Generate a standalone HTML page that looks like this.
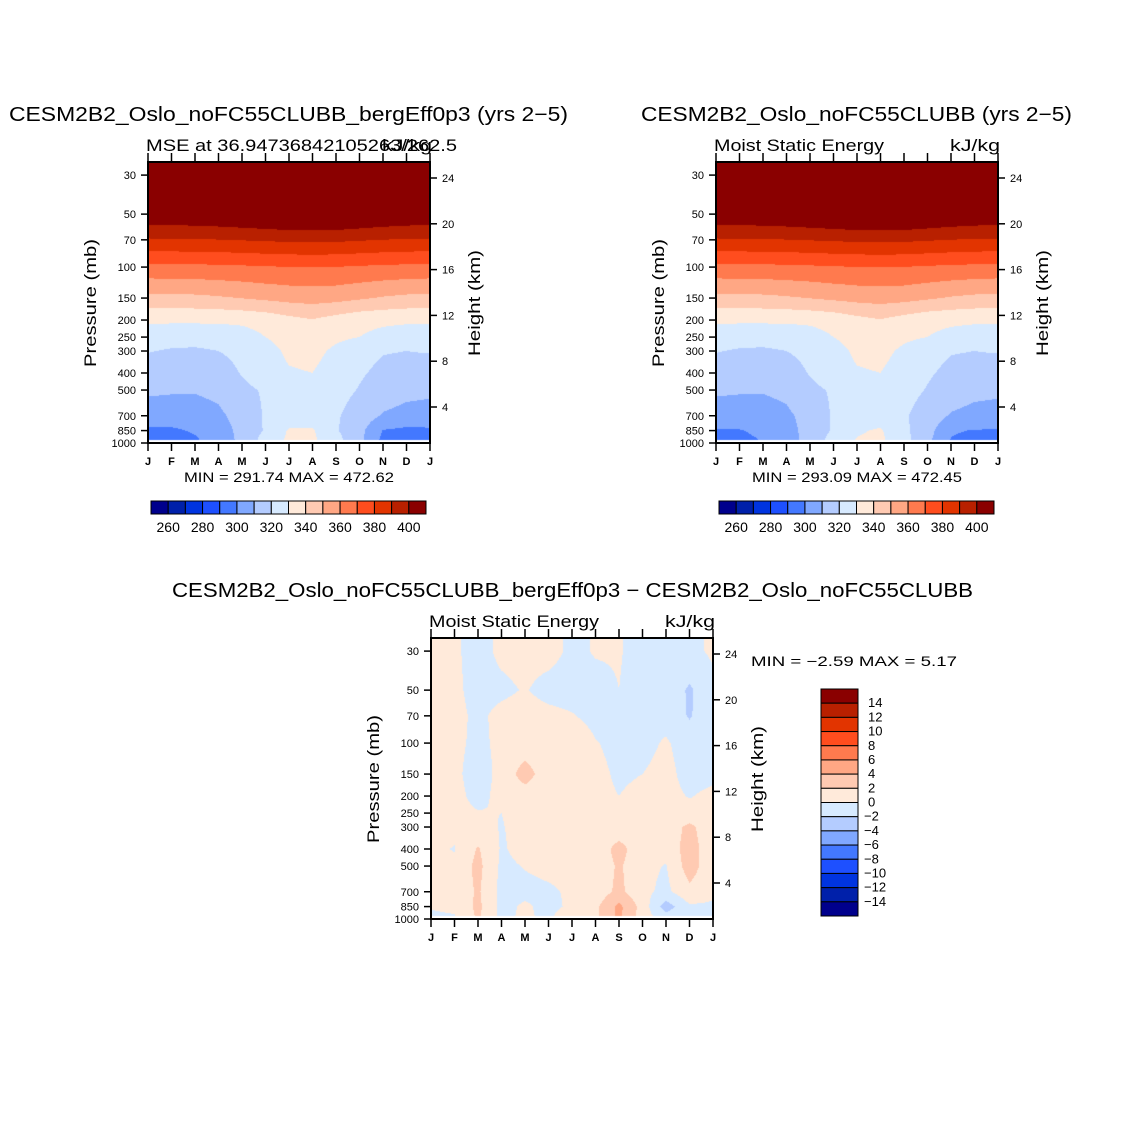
<!DOCTYPE html>
<html><head><meta charset="utf-8"><style>
html,body{margin:0;padding:0;background:#fff;width:1146px;height:1146px;overflow:hidden}
#cv{position:absolute;left:0;top:0}
#sv{position:absolute;left:0;top:0}
text{font-family:"Liberation Sans",sans-serif;fill:#000}
</style></head><body>
<canvas id="cv" width="1146" height="1146"></canvas>
<svg id="sv" width="1146" height="1146"></svg>
<script>
// ---- data ----
const months = ["J","F","M","A","M","J","J","A","S","O","N","D","J"];
const pLevels = [30,50,70,100,150,200,250,300,400,500,700,850,1000];
const pTickLabels = [30,50,70,100,150,200,250,300,400,500,700,850,1000];
const kmTicks = [4,8,12,16,20,24];
const palette = ["#00008C","#0020AA","#0034E0","#1E50FF","#4378FF","#80A8FF","#B4CCFF","#D7EAFF","#FFEADA","#FFCAB2","#FFA784","#FF7A4E","#FF4D1E","#E23400","#B82000","#8A0000"];
const cbLabels1 = [260,280,300,320,340,360,380,400];
const cbLabels3 = [14,12,10,8,6,4,2,0,-2,-4,-6,-8,-10,-12,-14];

// panel 1 MSE (kJ/kg), rows follow pLevels, columns months
const m1_p30  = [470,470,470,470,470,470,470,470,470,470,470,470,470];
const m1_p50  = [408,408.3,408.6,409.5,410.7,412.2,413.4,414,413.4,411.6,409.8,408.6,408];
const m1_p70  = [389,389.2,389.3,389.8,390.4,391.1,391.7,392,391.7,390.8,389.9,389.3,389];
const m1_p100 = [367.5,367.6,367.8,368.1,368.6,369.3,369.8,370,369.8,369,368.3,367.8,367.5];
const m1_p150 = [347,347.4,347.7,348.8,350.2,351.9,353.3,354,353.3,351.2,349.1,347.7,347];
const m1_p200 = [331.5,331.5,331.5,331.5,332,333.5,337,339.5,336,333,332,331.5,331.5];
const m1_p250 = [325,324,324,324.5,326,330,334,335,332,330,327,325.5,325];
const m1_p300 = [320.5,319,318.5,320,322,326,332,333,328,323,320.5,320,320.5];
const m1_p400 = [315,313.5,314.5,316.5,320.5,325,329,330,325,321,318,317,316];
const m1_p500 = [311.5,311,310.8,312.5,318,321,326,327,323,319.5,316,313,312];
const m1_p700 = [305.5,305,305.5,308,314,321,325,326,321,316,309,306.5,306];
const m1_p850 = [298.5,298.5,301,305,313,321,331,331,321,313,299.5,298,298.5];
const m1_p1000= [295,296,298,305,312,325,332,332,324,313,297,295.5,295];
// panel 2 (control) differs mainly near surface
const m2_p850 = [299.5,299.5,302,306,314,321,329,331,322,314,301,299.5,299.5];
const m2_p1000= [296,297,300,306,313,325,331,332,324,312,299,296.5,296];

// panel 3 difference (kJ/kg)
const d_p30  = [0.5,0.2,-0.5,0.3,0.5,0.5,-0.3,0.1,0.1,-0.5,-0.3,-0.5,0.3];
const d_p50  = [0.5,0.3,-0.5,-0.3,0.1,-0.5,-0.6,-0.4,0,-0.6,-0.6,-2.3,-0.5];
const d_p70  = [0.6,0.4,-0.3,0.4,0.6,0.4,0.1,-0.5,-0.6,-0.6,-0.6,-2.2,-0.5];
const d_p100 = [0.6,0.4,-0.4,0.4,0.7,0.6,1.2,0.1,-0.5,-0.5,0.2,-0.8,-0.5];
const d_p150 = [0.6,0.4,-0.8,0.5,3.0,0.6,1.8,0.5,-0.3,0,0.5,-0.6,-0.4];
const d_p200 = [0.6,0.5,-0.5,0.5,0.9,0.6,0.6,0.5,0,0.5,0.5,-0.1,0.4];
const d_p250 = [0.6,0.5,0.1,0,0.7,0.6,0.6,0.6,0.6,0.6,0.6,0.6,0.6];
const d_p300 = [0.6,0.5,0.5,-0.1,0.6,0.6,0.6,0.6,0.6,0.6,0.8,2.5,0.6];
const d_p400 = [0.4,-0.1,2.2,-0.2,0.6,0.6,0.6,0.6,2.8,0.6,0.6,3.0,0.6];
const d_p500 = [0.6,0.4,2.6,-0.4,0.1,0.5,0.6,0.6,2.3,0.5,-0.1,3.0,0.6];
const d_p700 = [0.6,0.5,2.3,-0.6,-0.5,-0.3,0.3,0.8,2.5,0.5,-0.5,1.5,0.4];
const d_p850 = [0.1,0.3,2.5,-0.6,0.3,-0.6,0.4,1.5,4.5,1.2,-3.0,-0.3,-0.3];
const d_p1000= [-0.3,-0.2,2.3,-0.5,0.4,-0.5,2.0,1.6,4.5,1.0,-0.8,-0.3,-0.3];

const field1 = [m1_p30,m1_p50,m1_p70,m1_p100,m1_p150,m1_p200,m1_p250,m1_p300,m1_p400,m1_p500,m1_p700,m1_p850,m1_p1000];
const field2 = [m1_p30,m1_p50,m1_p70,m1_p100,m1_p150,m1_p200,m1_p250,m1_p300,m1_p400,m1_p500,m1_p700,m2_p850,m2_p1000];
const field3 = [d_p30,d_p50,d_p70,d_p100,d_p150,d_p200,d_p250,d_p300,d_p400,d_p500,d_p700,d_p850,d_p1000];

// ---- layout ----
const W=282,H=281,PXL=76.4;
const panels=[
 {x:148,y:162,f:field1,lo:250,step:10,name:"panel-bergeff",title:"CESM2B2_Oslo_noFC55CLUBB_bergEff0p3 (yrs 2\u22125)",tx:9,tw:559,sub:"MSE at 36.94736842105263/262.5",sw:311,minmax:"MIN = 291.74  MAX = 472.62"},
 {x:716,y:162,f:field2,lo:250,step:10,name:"panel-control",title:"CESM2B2_Oslo_noFC55CLUBB (yrs 2\u22125)",tx:641,tw:431,sub:"Moist Static Energy",sw:170,minmax:"MIN = 293.09  MAX = 472.45"},
 {x:431,y:638,f:field3,lo:-16,step:2,name:"panel-difference",title:"CESM2B2_Oslo_noFC55CLUBB_bergEff0p3 \u2212 CESM2B2_Oslo_noFC55CLUBB",tx:172,tw:801,sub:"Moist Static Energy",sw:170,minmax:null}
];
function yOfP(P,p){return P.y+H-PXL*Math.log(1000/p);}
function xOfM(P,i){return P.x+i*W/12;}
function yOfKm(P,k){return P.y+245-(k-4)*11.45;}

const ctx=document.getElementById('cv').getContext('2d');
const lnL=pLevels.map(p=>Math.log(p));
function sample(F,mi,lp){
  let j=0; while(j<lnL.length-2 && lp>lnL[j+1]) j++;
  let t=(lp-lnL[j])/(lnL[j+1]-lnL[j]); t=Math.max(0,Math.min(1,t));
  let i=Math.min(11,Math.floor(mi)); let s=mi-i;
  const a=F[j][i]*(1-s)+F[j][i+1]*s, b=F[j+1][i]*(1-s)+F[j+1][i+1]*s;
  return a*(1-t)+b*t;
}
panels.forEach(P=>{
  for(let py=0;py<H;py++){
    const p=1000*Math.exp(-(H-py-0.5)/PXL);
    const lp=Math.log(p);
    for(let px=0;px<W;px++){
      const v=sample(P.f,(px+0.5)/W*12,lp);
      let k=Math.floor((v-P.lo)/P.step); k=Math.max(0,Math.min(15,k));
      ctx.fillStyle=palette[k]; ctx.fillRect(P.x+px,P.y+py,1,1);
    }
  }
  ctx.fillStyle="#fff"; ctx.fillRect(P.x,P.y+H-3,W,3);
});

// ---- svg ----
const NS="http://www.w3.org/2000/svg", svg=document.getElementById('sv');
function el(tag,attrs,parent){const e=document.createElementNS(NS,tag);for(const k in attrs)e.setAttribute(k,attrs[k]);(parent||svg).appendChild(e);return e;}
function txt(s,attrs,parent){const e=el('text',attrs,parent);e.textContent=s;return e;}

panels.forEach(P=>{
  const g=el('g',{});
  
  
  const b=el('rect',{x:P.x,y:P.y,width:W,height:H,fill:'none',stroke:'#000','stroke-width':2},g);
   
  const t=txt(P.title,{x:P.tx,y:P.y-41,'font-size':20,textLength:P.tw,lengthAdjust:'spacingAndGlyphs'},g);
   
  const st=txt(P.sub,{x:P.x-2,y:P.y-11,'font-size':17,textLength:P.sw,lengthAdjust:'spacingAndGlyphs'},g);
   
  const un=txt("kJ/kg",{x:P.x+W+2,y:P.y-11,'font-size':17,'text-anchor':'end',textLength:50,lengthAdjust:'spacingAndGlyphs'},g);
   
  months.forEach((m,i)=>{
    const x=xOfM(P,i);
    el('line',{x1:x,x2:x,y1:P.y+H,y2:P.y+H+8,stroke:'#000','stroke-width':1.5},g);
    el('line',{x1:x,x2:x,y1:P.y,y2:P.y-9,stroke:'#000','stroke-width':1.5},g);
    const l=txt(m,{x:x,y:P.y+H+22,'font-size':11,'text-anchor':'middle','font-weight':'bold'},g);
     
  });
  pTickLabels.forEach(p=>{
    const y=yOfP(P,p);
    el('line',{x1:P.x,x2:P.x-7,y1:y,y2:y,stroke:'#000','stroke-width':1.5},g);
    const l=txt(String(p),{x:P.x-12,y:y+4,'font-size':11,'text-anchor':'end'},g);
     
  });
  kmTicks.forEach(k=>{
    const y=yOfKm(P,k);
    el('line',{x1:P.x+W,x2:P.x+W+7,y1:y,y2:y,stroke:'#000','stroke-width':1.5},g);
    const l=txt(String(k),{x:P.x+W+12,y:y+4,'font-size':11},g);
     
  });
  const yt=txt("Pressure (mb)",{x:0,y:0,'font-size':17,'text-anchor':'middle',textLength:128,lengthAdjust:'spacingAndGlyphs',transform:`translate(${P.x-52},${P.y+141}) rotate(-90)`},g);
   
  const ht=txt("Height (km)",{x:0,y:0,'font-size':17,'text-anchor':'middle',textLength:106,lengthAdjust:'spacingAndGlyphs',transform:`translate(${P.x+W+50},${P.y+141}) rotate(-90)`},g);
   
  if(P.minmax){
    const mm=txt(P.minmax,{x:P.x+141,y:P.y+H+39,'font-size':14,'text-anchor':'middle',textLength:210,lengthAdjust:'spacingAndGlyphs'},g);
     
    // horizontal colorbar
    const cx=P.x+3, cw=275/16;
    palette.forEach((c,i)=>{
      const r=el('rect',{x:cx+i*cw,y:501,width:cw,height:13,fill:c,stroke:'#000','stroke-width':1},g);
       
    });
    cbLabels1.forEach((v,i)=>{
      const l=txt(String(v),{x:cx+(1+2*i)*cw,y:532,'font-size':14,'text-anchor':'middle'},g);
       
    });
  }
});
// panel 3 extras
const mm3=txt("MIN =   \u22122.59  MAX =     5.17",{x:751,y:666,'font-size':14,'xml:space':'preserve',textLength:206,lengthAdjust:'spacingAndGlyphs'});
 
const vb=227/16;
palette.slice().reverse().forEach((c,i)=>{
  const r=el('rect',{x:821,y:689+i*vb,width:37,height:vb,fill:c,stroke:'#000','stroke-width':1});
   
});
cbLabels3.forEach((v,i)=>{
  const s=v<0?"\u2212"+(-v):String(v);
  const l=txt(s,{x:v<0?864:868,y:689+(i+1)*vb+4,'font-size':13});
   
});
</script>
</body></html>
